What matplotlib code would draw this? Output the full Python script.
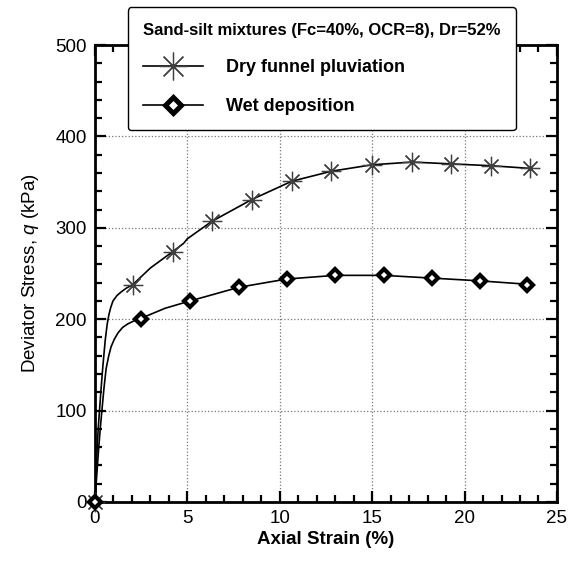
import matplotlib
matplotlib.use("Agg")
import matplotlib.pyplot as plt
from matplotlib.ticker import MultipleLocator

plt.rcParams["font.family"] = ["Liberation Sans", "DejaVu Sans"]
plt.rcParams["mathtext.fontset"] = "custom"
plt.rcParams["mathtext.it"] = "Liberation Sans:italic"
plt.rcParams["mathtext.rm"] = "Liberation Sans"

# ── data ──────────────────────────────────────────────────────────────────────
dry_curve_strain = [0, 0.02, 0.06, 0.12, 0.18, 0.25, 0.34, 0.43, 0.56, 0.67, 0.76,
                    0.86, 0.98, 1.2, 1.43, 1.7, 2.06, 3.0, 4.21, 4.8, 5.0, 6.32,
                    8.49, 10.65, 12.8, 14.99, 17.16, 19.28, 21.43, 23.6]
dry_curve_q = [0, 10, 30, 57, 80, 100, 125, 148, 177, 195, 205,
               213, 220, 226, 230, 234, 238, 256, 274, 283, 288, 307,
               331, 351, 362, 369, 372, 370, 368, 365]
dry_mark_strain = [0, 2.06, 4.21, 6.32, 8.49, 10.65, 12.8, 14.99, 17.16, 19.28, 21.43, 23.56]
dry_mark_q = [0, 238, 274, 307, 331, 351, 362, 369, 372, 370, 368, 365]

wet_curve_strain = [0, 0.07, 0.2, 0.29, 0.38, 0.5, 0.61, 0.75, 0.88, 1.05, 1.25,
                    1.5, 1.79, 2.1, 2.5, 3.8, 5.15, 7.8, 10.38, 13.0, 15.62,
                    18.24, 20.82, 23.6]
wet_curve_q = [0, 20, 57, 80, 100, 126, 146, 160, 170, 178, 185,
               191, 195, 198, 201, 212, 220, 235, 244, 248, 248,
               245, 242, 238]
wet_mark_strain = [0, 2.5, 5.15, 7.8, 10.38, 13.0, 15.62, 18.24, 20.82, 23.38]
wet_mark_q = [0, 200, 220, 235, 244, 248, 248, 245, 242, 238]

legend_title = "Sand-silt mixtures (Fc=40%, OCR=8), Dr=52%"
dry_label = "Dry funnel pluviation"
wet_label = "Wet deposition"

STAR = "#404040"

fig = plt.figure(figsize=(5.82, 5.64), dpi=100)
ax = fig.add_axes([0.163, 0.110, 0.794, 0.810])

ax.plot(dry_curve_strain, dry_curve_q, color="black", lw=1.2, zorder=3)
ax.plot(wet_curve_strain, wet_curve_q, color="black", lw=1.2, zorder=3)
ax.plot(dry_mark_strain, dry_mark_q, ls="none", marker=(8, 2, 0), ms=14,
        mew=0.9, mec=STAR, zorder=4, clip_on=False)
ax.plot(wet_mark_strain, wet_mark_q, ls="none", marker="D", ms=6,
        mew=3.0, mec="black", mfc="white", zorder=5, clip_on=False)

# legend handles
h1, = ax.plot([], [], color="black", lw=1.2, marker=(8, 2, 0), ms=20,
              mew=0.9, mec=STAR, label=dry_label)
h2, = ax.plot([], [], color="black", lw=1.2, marker="D", ms=8.5,
              mew=3.6, mec="black", mfc="white", label=wet_label)
leg = ax.legend(handles=[h1, h2], title=legend_title, loc="upper left",
                bbox_to_anchor=(0.071, 1.083), fancybox=True, framealpha=1,
                edgecolor="black", prop={"weight": "bold", "size": 13},
                title_fontproperties={"weight": "bold", "size": 12.0},
                handlelength=3.3, handletextpad=1.3, labelspacing=1.2,
                borderpad=0.85, borderaxespad=0, alignment="left")
leg.get_frame().set_linewidth(1.0)
leg.set_zorder(10)

ax.set_xlim(0, 25)
ax.set_ylim(0, 500)
ax.xaxis.set_major_locator(MultipleLocator(5))
ax.xaxis.set_minor_locator(MultipleLocator(1))
ax.yaxis.set_major_locator(MultipleLocator(100))
ax.yaxis.set_minor_locator(MultipleLocator(20))
ax.tick_params(which="both", direction="in", top=True, right=True,
               labelsize=13.5, width=1.6)
ax.tick_params(which="major", length=8, pad=6)
ax.tick_params(which="minor", length=5)
for s in ax.spines.values():
    s.set_linewidth(2)

ax.grid(which="major", color="#777777", ls=":", lw=0.9)
ax.set_axisbelow(True)

ax.set_xlabel("Axial Strain (%)", fontsize=13.5, fontweight="bold", labelpad=3)
ax.set_ylabel("Deviator Stress, $q$ (kPa)", fontsize=13.5, labelpad=10)

fig.savefig("out.png", dpi=100)
